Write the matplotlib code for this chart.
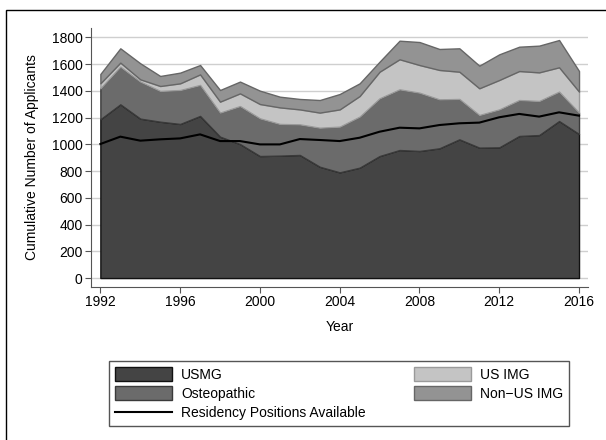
import numpy as np
import matplotlib
matplotlib.use('Agg')
from matplotlib import pyplot as plt
from matplotlib.patches import Rectangle, Patch
from matplotlib.lines import Line2D

plt.rcParams['font.family'] = ['Liberation Sans', 'DejaVu Sans']

years = np.arange(1992, 2017)

# applicants per group (stacked in this order)
usmg = [1188, 1300, 1193, 1170, 1153, 1213, 1058, 1003, 913, 916, 921, 833, 791,
        826, 913, 958, 951, 971, 1038, 976, 978, 1063, 1070, 1175, 1078]
osteopathic = [232, 282, 277, 230, 254, 232, 180, 284, 282, 237, 229, 292, 342,
               382, 432, 454, 436, 366, 302, 244, 284, 269, 255, 220, 160]
us_img = [37, 30, 17, 37, 50, 79, 82, 95, 107, 124, 112, 113, 129,
          154, 199, 225, 207, 220, 204, 200, 220, 217, 214, 182, 157]
non_us_img = [70, 107, 120, 75, 80, 70, 87, 88, 100, 80, 78, 94, 115,
              95, 75, 139, 172, 157, 175, 169, 192, 182, 200, 204, 154]
positions = [1003, 1058, 1028, 1038, 1045, 1075, 1025, 1025, 1000, 1000, 1040, 1033, 1025,
             1050, 1095, 1125, 1120, 1145, 1158, 1163, 1203, 1228, 1208, 1240, 1215]

labels = ['USMG', 'Osteopathic', 'US IMG', 'Non\u2212US IMG']
colors = ['#444444', '#6b6b6b', '#c4c4c4', '#939393']
edges = ['#111111', '#3a3a3a', '#9a9a9a', '#666666']

fig = plt.figure(figsize=(6.06, 4.4), dpi=100)
ax = fig.add_axes([91/606, 1 - 287/440, 497/606, 259/440])

polys = ax.stackplot(years, usmg, osteopathic, us_img, non_us_img, colors=colors, linewidth=1.0)
for p, ec in zip(polys, edges):
    p.set_edgecolor(ec)
ax.plot(years, positions, color='black', lw=1.5)

ax.set_xlim(1991.53, 2016.45)
ax.set_ylim(-67, 1871)
ax.set_xticks(np.arange(1992, 2017, 4))
ax.set_yticks(np.arange(0, 1801, 200))
ax.grid(axis='y', color='#cfcfcf', lw=1)
ax.set_axisbelow(True)
for s in ['top', 'right']:
    ax.spines[s].set_visible(False)
for s in ['left', 'bottom']:
    ax.spines[s].set_color('#555555')
ax.tick_params(length=4, color='#555555', labelsize=10, pad=2)

ax.set_xlabel('Year', fontsize=10)
ax.set_ylabel('Cumulative Number of Applicants', fontsize=10)
ax.xaxis.set_label_coords(0.5, -0.127)
ax.yaxis.set_label_coords(-0.105, 0.5)

# legend
handles = [Patch(facecolor=colors[0], edgecolor=edges[0]),
           Patch(facecolor=colors[1], edgecolor=edges[1]),
           Line2D([], [], color='black', lw=1.5),
           Patch(facecolor=colors[2], edgecolor=edges[2]),
           Patch(facecolor=colors[3], edgecolor=edges[3])]
leg_labels = [labels[0], labels[1], 'Residency Positions Available', labels[2], labels[3]]
leg = fig.legend(handles, leg_labels, ncol=2, loc='lower left',
                 bbox_to_anchor=(109/606, 1 - 426/440, 460/606, 71/440), mode='expand',
                 fontsize=10, fancybox=False, edgecolor='#555555', framealpha=1,
                 handlelength=4.1, handleheight=1.15, labelspacing=0.35,
                 handletextpad=0.7, borderaxespad=0, borderpad=0.4)
leg.get_frame().set_linewidth(1)

# outer frame of the figure
fig.patches.append(Rectangle((6/606, -0.2), 1.2, 1.2 - 10/440, transform=fig.transFigure,
                             fill=False, edgecolor='black', lw=1))

fig.savefig('out.png', dpi=100)
